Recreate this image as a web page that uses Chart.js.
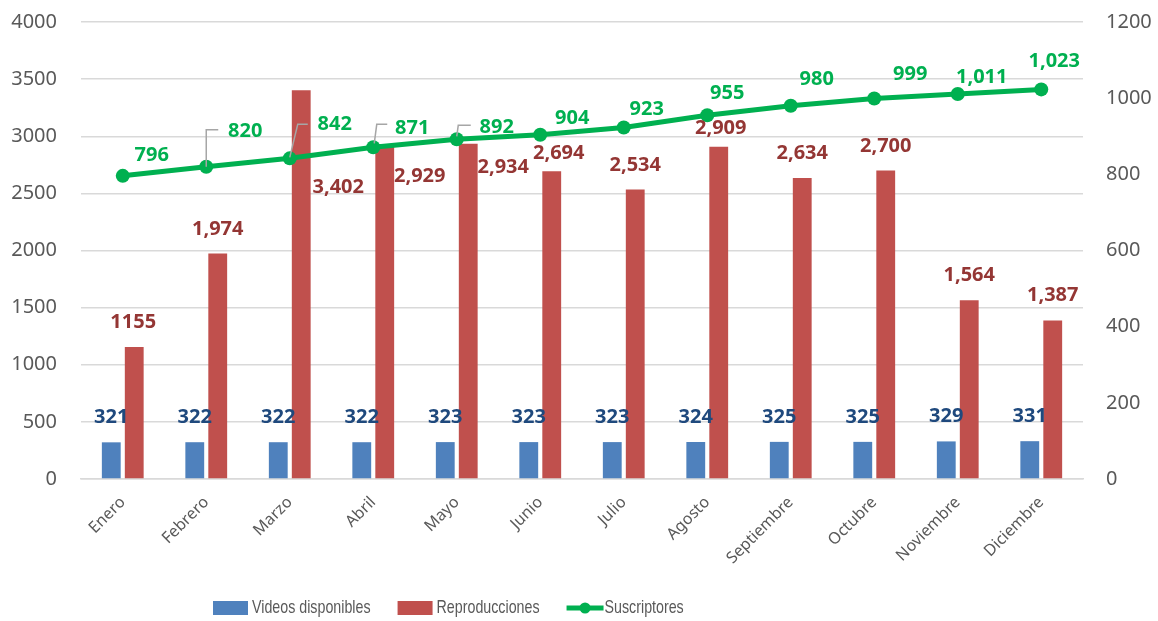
<!DOCTYPE html>
<html lang="es">
<head>
<meta charset="utf-8">
<title>Videos, reproducciones y suscriptores</title>
<script src="https://cdn.jsdelivr.net/npm/chart.js@4.4.1/dist/chart.umd.min.js"></script>
<style>
  html, body { margin: 0; padding: 0; background: #fff; }
  #wrap { width: 1158px; height: 621px; position: relative; }
</style>
</head>
<body>
<div id="wrap"><canvas id="grafico"></canvas></div>
<script>
const meses = ['Enero', 'Febrero', 'Marzo', 'Abril', 'Mayo', 'Junio', 'Julio',
    'Agosto', 'Septiembre', 'Octubre', 'Noviembre', 'Diciembre'];
const videosDisponibles = [321, 322, 322, 322, 323, 323, 323, 324, 325, 325, 329, 331];
const reproducciones = [1155, 1974, 3402, 2929, 2934, 2694, 2534, 2909, 2634, 2700, 1564, 1387];
const suscriptores = [796, 820, 842, 871, 892, 904, 923, 955, 980, 999, 1011, 1023];
const ticksIzquierda = [0, 500, 1000, 1500, 2000, 2500, 3000, 3500, 4000];
const ticksDerecha = [0, 200, 400, 600, 800, 1000, 1200];

// etiquetas que se muestran sin separador de miles: [dataset, indice]
const sinSeparador = [[1, 0]];

// desplazamiento (px) de cada etiqueta respecto a su barra o punto
const despVideos = meses.map(() => [0, -25]);
const despRepro = [[-1, -25], [0, -24], [37, 97], [35, 32], [35, 24], [7, -18],
    [0, -24], [2, -18], [0, -25], [0, -24], [0, -25], [0, -25]];
const despSusc = [[29, -21], [39, -35], [45, -34], [39, -19], [40, -12], [32, -16],
    [23, -18], [20, -22], [26, -26], [36, -24], [24, -17], [13, -28]];
// lineas guia de algunas etiquetas de suscriptores
const guiasSusc = {
    1: [[0, 0], [0, -37], [12, -37]],
    2: [[0, -1], [8, -34], [18, -34]],
    3: [[1, -4], [3.5, -23], [14, -23]],
    4: [[0, -3], [1.5, -14], [14, -14]]
};

const AZUL = '#4F81BD', ROJO = '#C0504D', VERDE = '#00B050';
const GRIS = '#595959';
const FUENTE = '"Noto Sans", "DejaVu Sans", sans-serif';

function formato(ds, i, v) {
    if (sinSeparador.some(p => p[0] === ds && p[1] === i)) return String(v);
    return v.toLocaleString('en-US');
}

const etiquetasPlugin = {
    id: 'etiquetas',
    afterDatasetsDraw(chart) {
        const ctx = chart.ctx;
        const cfg = [
            { desp: despVideos, color: '#1F497D' },
            { desp: despRepro, color: '#943634' },
            { desp: despSusc, color: VERDE }
        ];
        ctx.save();
        // guias grises
        const puntos = chart.getDatasetMeta(2).data;
        ctx.strokeStyle = '#A6A6A6';
        ctx.lineWidth = 1.5;
        Object.keys(guiasSusc).forEach(k => {
            const p = puntos[k];
            ctx.beginPath();
            guiasSusc[k].forEach(([dx, dy], j) => {
                if (j === 0) ctx.moveTo(p.x + dx, p.y + dy);
                else ctx.lineTo(p.x + dx, p.y + dy);
            });
            ctx.stroke();
        });
        ctx.font = 'bold 20px ' + FUENTE;
        ctx.textAlign = 'center';
        ctx.textBaseline = 'middle';
        chart.data.datasets.forEach((ds, d) => {
            const meta = chart.getDatasetMeta(d);
            ctx.fillStyle = cfg[d].color;
            meta.data.forEach((el, i) => {
                const [dx, dy] = cfg[d].desp[i];
                ctx.fillText(formato(d, i, ds.data[i]), el.x + dx, el.y + dy);
            });
        });
        ctx.restore();
    }
};

// leyenda dibujada a mano bajo el eje de categorias (texto estrecho)
const leyendaPlugin = {
    id: 'leyenda',
    afterDraw(chart) {
        const ctx = chart.ctx;
        const y = 608;
        const estrecho = 0.75;
        let x = 213;
        ctx.save();
        ctx.font = '19px "Liberation Sans", sans-serif';
        ctx.textBaseline = 'middle';
        ctx.textAlign = 'left';
        chart.data.datasets.forEach(ds => {
            if (ds.type === 'line') {
                ctx.strokeStyle = ds.borderColor;
                ctx.lineWidth = 5;
                ctx.beginPath();
                ctx.moveTo(x, y);
                ctx.lineTo(x + 37, y);
                ctx.stroke();
                ctx.fillStyle = ds.borderColor;
                ctx.beginPath();
                ctx.arc(x + 18.5, y, 5.5, 0, Math.PI * 2);
                ctx.fill();
                x += 38;
            } else {
                ctx.fillStyle = ds.backgroundColor;
                ctx.fillRect(x, y - 7, 35, 14);
                x += 39;
            }
            ctx.fillStyle = GRIS;
            ctx.save();
            ctx.translate(x, y);
            ctx.scale(estrecho, 1);
            ctx.fillText(ds.label, 0, 0);
            ctx.restore();
            x += ctx.measureText(ds.label).width * estrecho + 27;
        });
        ctx.restore();
    }
};

// ejes verticales: la separacion de las etiquetas va en la marca invisible
const ejeVertical = (pos, ticks, ancho, separacion) => ({
    position: pos,
    min: ticks[0],
    max: ticks[ticks.length - 1],
    afterBuildTicks: s => { s.ticks = ticks.map(v => ({ value: v })); },
    grid: {
        display: pos === 'left',
        color: '#D9D9D9',
        lineWidth: 1.5,
        drawTicks: true,
        tickLength: separacion,
        tickColor: 'rgba(0,0,0,0)'
    },
    border: { display: false },
    ticks: {
        color: GRIS,
        font: { family: FUENTE, size: 20 },
        padding: 0,
        callback: v => String(v)
    },
    afterFit: s => { s.width = ancho; }
});

new Chart(document.getElementById('grafico'), {
    data: {
        labels: meses,
        datasets: [
            {
                type: 'bar',
                label: 'Videos disponibles',
                data: videosDisponibles,
                backgroundColor: AZUL,
                yAxisID: 'y',
                order: 1,
                categoryPercentage: 0.55,
                barPercentage: 0.82
            },
            {
                type: 'bar',
                label: 'Reproducciones',
                data: reproducciones,
                backgroundColor: ROJO,
                yAxisID: 'y',
                order: 1,
                categoryPercentage: 0.55,
                barPercentage: 0.82
            },
            {
                type: 'line',
                label: 'Suscriptores',
                data: suscriptores,
                borderColor: VERDE,
                backgroundColor: VERDE,
                borderWidth: 5,
                pointRadius: 7,
                pointBackgroundColor: VERDE,
                pointBorderWidth: 0,
                tension: 0,
                yAxisID: 'y1',
                order: 0
            }
        ]
    },
    options: {
        responsive: true,
        maintainAspectRatio: false,
        animation: false,
        layout: { padding: { top: 22, bottom: 0, left: 0, right: 0 } },
        plugins: {
            legend: { display: false },
            tooltip: { enabled: false }
        },
        scales: {
            x: {
                grid: { display: false },
                border: { color: '#D9D9D9', width: 1.5 },
                ticks: {
                    color: GRIS,
                    font: { family: FUENTE, size: 16 },
                    maxRotation: 45,
                    minRotation: 45,
                    padding: 6
                },
                afterFit: s => { s.height = 142; }
            },
            y: ejeVertical('left', ticksIzquierda, 81, 24),
            y1: ejeVertical('right', ticksDerecha, 75, 23)
        }
    },
    plugins: [etiquetasPlugin, leyendaPlugin]
});
</script>
</body>
</html>
